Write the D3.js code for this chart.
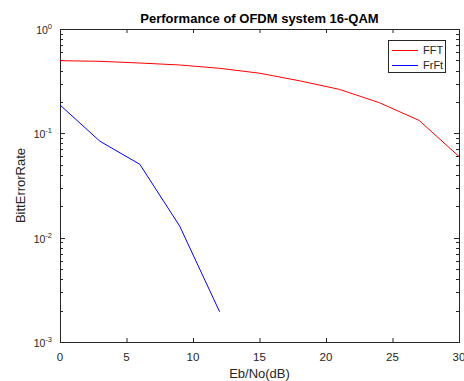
<!DOCTYPE html>
<html>
<head>
<meta charset="utf-8">
<script src="https://cdn.jsdelivr.net/npm/d3@7"></script>
<style>
  body { margin: 0; background: #fff; }
  text { font-family: "Liberation Sans", Arial, sans-serif; fill: #262626; }
</style>
</head>
<body>
<div id="chart"></div>
<script>
// --- Données
const snr = [0, 3, 6, 9, 12, 15, 18, 21, 24, 27, 30];
const berFFT = [0.497, 0.49, 0.472, 0.452, 0.42, 0.377, 0.319, 0.264, 0.197, 0.133, 0.06];
const snrFrFt = [0, 3, 6, 9, 12];
const berFrFt = [0.187, 0.084, 0.0505, 0.0129, 0.00195];
const xTicks = [0, 5, 10, 15, 20, 25, 30];
const seriesNames = ["FFT", "FrFt"];

const width = 464, height = 381;
const m = { left: 60, right: 459, top: 29, bottom: 342 };

const svg = d3.select("#chart").append("svg")
  .attr("width", width).attr("height", height);

const x = d3.scaleLinear().domain([0, 30]).range([m.left, m.right]);
const y = d3.scaleLog().domain([1e-3, 1]).range([m.bottom, m.top]);

const axisColor = "#262626";

// --- Ticks x (haut et bas, vers l'intérieur)
xTicks.forEach(t => {
  svg.append("line").attr("x1", x(t) + 0.5).attr("x2", x(t) + 0.5)
    .attr("y1", m.bottom).attr("y2", m.bottom - 4)
    .attr("stroke", axisColor).attr("stroke-width", 1);
  svg.append("line").attr("x1", x(t) + 0.5).attr("x2", x(t) + 0.5)
    .attr("y1", m.top).attr("y2", m.top + 4)
    .attr("stroke", axisColor).attr("stroke-width", 1);
  svg.append("text").attr("x", x(t)).attr("y", 361)
    .attr("text-anchor", "middle").attr("font-size", 11.5).text(t);
});

// --- Ticks y (log : majeurs et mineurs, gauche et droite)
const minor = [];
for (let e = -3; e < 0; e++) for (let k = 2; k <= 9; k++) minor.push(k * Math.pow(10, e));
const major = [1e-3, 1e-2, 1e-1, 1];

minor.forEach(v => {
  svg.append("line").attr("x1", m.left).attr("x2", m.left + 3)
    .attr("y1", Math.round(y(v)) + 0.5).attr("y2", Math.round(y(v)) + 0.5)
    .attr("stroke", axisColor);
  svg.append("line").attr("x1", m.right).attr("x2", m.right - 3)
    .attr("y1", Math.round(y(v)) + 0.5).attr("y2", Math.round(y(v)) + 0.5)
    .attr("stroke", axisColor);
});
major.forEach(v => {
  svg.append("line").attr("x1", m.left).attr("x2", m.left + 5)
    .attr("y1", Math.round(y(v)) + 0.5).attr("y2", Math.round(y(v)) + 0.5)
    .attr("stroke", axisColor);
  svg.append("line").attr("x1", m.right).attr("x2", m.right - 5)
    .attr("y1", Math.round(y(v)) + 0.5).attr("y2", Math.round(y(v)) + 0.5)
    .attr("stroke", axisColor);
  const e = Math.round(Math.log10(v));
  const t = svg.append("text").attr("x", 52).attr("y", y(v) + 5)
    .attr("text-anchor", "end").attr("font-size", 10.5);
  t.append("tspan").text("10");
  t.append("tspan").attr("dy", -5).attr("font-size", 7.5).text(e);
});

// --- Cadre
svg.append("rect").attr("x", m.left + 0.5).attr("y", m.top + 0.5)
  .attr("width", m.right - m.left).attr("height", m.bottom - m.top)
  .attr("fill", "none").attr("stroke", axisColor).attr("stroke-width", 1);

// --- Courbes
const line = d3.line().x(d => x(d[0])).y(d => y(d[1]));
svg.append("path").datum(d3.zip(snr, berFFT))
  .attr("d", line).attr("fill", "none").attr("stroke", "#ff0000").attr("stroke-width", 1);
svg.append("path").datum(d3.zip(snrFrFt, berFrFt))
  .attr("d", line).attr("fill", "none").attr("stroke", "#0000ff").attr("stroke-width", 1);

// --- Titres
svg.append("text").attr("x", (m.left + m.right) / 2).attr("y", 23)
  .attr("text-anchor", "middle").attr("font-size", 13).attr("font-weight", "bold")
  .style("fill", "#000").text("Performance of OFDM system 16-QAM");
svg.append("text").attr("x", (m.left + m.right) / 2).attr("y", 378)
  .attr("text-anchor", "middle").attr("font-size", 13).text("Eb/No(dB)");
svg.append("text").attr("transform", `translate(25,${(m.top + m.bottom) / 2}) rotate(-90)`)
  .attr("text-anchor", "middle").attr("font-size", 13).text("BittErrorRate");

// --- Légende
const legend = svg.append("g");
legend.append("rect").attr("x", 388.5).attr("y", 40.5).attr("width", 57).attr("height", 32)
  .attr("fill", "#fff").attr("stroke", axisColor).attr("stroke-width", 1);
const colors = ["#ff0000", "#0000ff"];
seriesNames.forEach((name, i) => {
  const ly = 50 + i * 15;
  legend.append("line").attr("x1", 392).attr("x2", 418)
    .attr("y1", ly + 0.5).attr("y2", ly + 0.5).attr("stroke", colors[i]);
  legend.append("text").attr("x", 423).attr("y", ly + 4)
    .attr("font-size", 11).text(name);
});
</script>
</body>
</html>
